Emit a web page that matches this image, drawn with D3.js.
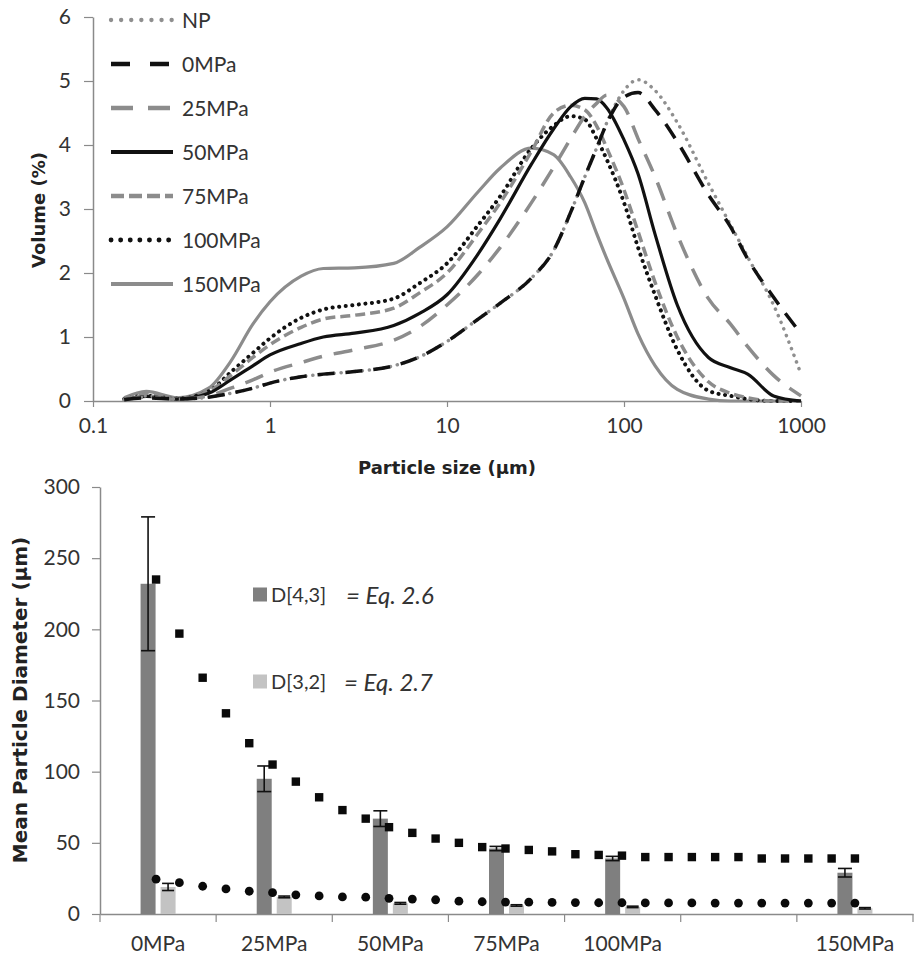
<!DOCTYPE html>
<html>
<head>
<meta charset="utf-8">
<script src="https://cdn.jsdelivr.net/npm/d3@7"></script>
<style>
  html, body { margin: 0; padding: 0; background: #fff; }
  svg { display: block; }
  text { font-family: Lato, "Open Sans", "DejaVu Sans", sans-serif; fill: #333; }
  text.axis-title { font-family: "DejaVu Sans", Verdana, sans-serif; font-weight: bold; fill: #222; }
</style>
</head>
<body>
<svg id="chart" width="914" height="959"></svg>
<script>
// ---------- Particle size distribution (top panel) ----------
const sizes = [0.15, 0.2, 0.3, 0.45, 0.6, 0.8, 1, 1.5, 2, 3, 5, 7, 10, 15, 20, 30, 40, 50, 60, 70, 80, 100, 120, 150, 200, 300, 400, 500, 700, 1000];
const volNP    = [0.02, 0.08, 0.03, 0.06, 0.12, 0.2, 0.28, 0.38, 0.42, 0.46, 0.55, 0.69, 0.93, 1.28, 1.53, 1.92, 2.35, 2.95, 3.5, 3.95, 4.35, 4.85, 5.02, 4.85, 4.35, 3.4, 2.75, 2.25, 1.5, 0.42];
const vol0     = [0.02, 0.05, 0.03, 0.06, 0.12, 0.2, 0.28, 0.38, 0.42, 0.46, 0.55, 0.69, 0.93, 1.28, 1.53, 1.92, 2.35, 2.95, 3.5, 3.95, 4.34, 4.75, 4.82, 4.55, 4.05, 3.22, 2.72, 2.22, 1.62, 1.05];
const vol25    = [0.02, 0.06, 0.03, 0.08, 0.2, 0.33, 0.45, 0.6, 0.7, 0.8, 0.95, 1.16, 1.5, 1.98, 2.4, 3.1, 3.65, 4.1, 4.45, 4.65, 4.78, 4.6, 4.1, 3.5, 2.6, 1.6, 1.2, 0.85, 0.4, 0.08];
const vol50    = [0.02, 0.07, 0.03, 0.12, 0.33, 0.55, 0.72, 0.9, 1.0, 1.06, 1.18, 1.37, 1.66, 2.3, 2.85, 3.7, 4.25, 4.6, 4.73, 4.72, 4.58, 4.08, 3.55, 2.6, 1.5, 0.68, 0.52, 0.42, 0.08, 0];
const vol75    = [0.03, 0.1, 0.04, 0.15, 0.4, 0.68, 0.88, 1.15, 1.28, 1.34, 1.45, 1.69, 2.0, 2.62, 3.1, 3.9, 4.5, 4.62, 4.55, 4.3, 3.95, 3.3, 2.65, 1.85, 1.0, 0.3, 0.12, 0.05, 0, 0];
const vol100   = [0.03, 0.08, 0.04, 0.15, 0.45, 0.75, 0.98, 1.3, 1.43, 1.5, 1.6, 1.84, 2.15, 2.75, 3.2, 3.95, 4.3, 4.45, 4.4, 4.1, 3.77, 3.1, 2.4, 1.65, 0.8, 0.16, 0.08, 0.03, 0, 0];
const vol150   = [0.05, 0.15, 0.05, 0.2, 0.62, 1.2, 1.55, 1.95, 2.07, 2.08, 2.15, 2.4, 2.72, 3.27, 3.64, 3.95, 3.85, 3.5, 3.1, 2.62, 2.22, 1.6, 1.05, 0.55, 0.18, 0.03, 0, 0, 0, 0];
const seriesNames = ["NP", "0MPa", "25MPa", "50MPa", "75MPa", "100MPa", "150MPa"];
const sizeTicks = [0.1, 1, 10, 100, 1000];
const sizeTickLabels = ["0.1", "1", "10", "100", "1000"];
const volumeTicks = [0, 1, 2, 3, 4, 5, 6];

// ---------- Mean particle diameters (bottom panel) ----------
const pressures = [0, 25, 50, 75, 100, 125, 150];
const pressureLabels = ["0MPa", "25MPa", "50MPa", "75MPa", "100MPa", "", "150MPa"];
const measuredP = [0, 25, 50, 75, 100, 150];
const d43 = [232, 95, 67, 46, 39, 29];
const d43Err = [47, 9, 5.5, 1.5, 1.5, 3];
const d32 = [19, 12, 7.5, 6, 5, 4];
const d32Err = [2.5, 0.6, 0.6, 0.5, 0.5, 0.5];
const modelP = [0, 5, 10, 15, 20, 25, 30, 35, 40, 45, 50, 55, 60, 65, 70, 75, 80, 85, 90, 95, 100, 105, 110, 115, 120, 125, 130, 135, 140, 145, 150];
const eq26 = [235, 197, 166, 141, 120, 105, 93, 82, 73, 67, 61, 57, 53, 50, 47, 46, 45, 44, 42, 41.5, 41, 40, 40, 40, 40, 40, 39, 39, 39, 39, 39];
const eq27 = [24.5, 22, 19.5, 17.6, 16, 15, 13.5, 12.7, 12, 11.8, 11, 10.5, 10, 9, 8.6, 8.4, 8.3, 8.1, 8, 7.9, 7.9, 7.8, 7.8, 7.8, 7.7, 7.7, 7.7, 7.7, 7.7, 7.7, 7.7];
const diamTicks = [0, 50, 100, 150, 200, 250, 300];

const svg = d3.select("#chart");
const axisColor = "#8a8a8a";
const tickFont = 21;

// ===== Top panel =====
const x = d3.scaleLog().domain([0.1, 1000]).range([93, 801]);
const y = d3.scaleLinear().domain([0, 6]).range([401, 17]);

const topPanel = svg.append("g");

// axes
const xAxisTop = topPanel.append("g").attr("transform", `translate(0,${y(0)})`)
  .call(d3.axisBottom(x).tickValues(sizeTicks).tickFormat((d, i) => sizeTickLabels[i]).tickSizeInner(6).tickSizeOuter(0));
const yAxisTop = topPanel.append("g").attr("transform", `translate(${x(0.1)},0)`)
  .call(d3.axisLeft(y).tickValues(volumeTicks).tickFormat(d3.format("d")).tickSizeInner(9).tickSizeOuter(0));
[xAxisTop, yAxisTop].forEach(g => {
  g.select(".domain").attr("stroke", axisColor).attr("stroke-width", 1.5);
  g.selectAll(".tick line").attr("stroke", axisColor).attr("stroke-width", 1.2);
  g.selectAll(".tick text").attr("font-size", tickFont).attr("fill", "#333")
    .style("font-family", "Lato, 'Open Sans', sans-serif");
});
xAxisTop.selectAll(".tick text").attr("dy", "1.1em");
yAxisTop.selectAll(".tick text").attr("x", -22);

topPanel.append("text").attr("class", "axis-title").attr("x", 447).attr("y", 474).attr("text-anchor", "middle")
  .attr("font-size", 18).text("Particle size (µm)");
topPanel.append("text").attr("class", "axis-title").attr("transform", "translate(45,210) rotate(-90)").attr("text-anchor", "middle")
  .attr("font-size", 18).text("Volume (%)");

const styles = {
  "NP":     { color: "#8f8f8f", width: 3.5, dash: "0.1 7", cap: "round", legendDash: "0.1 10" },
  "0MPa":   { color: "#111",    width: 3.5, dash: "17 11", cap: "butt", legendDash: "19 20" },
  "25MPa":  { color: "#8c8c8c", width: 3.5, dash: "19 12", cap: "butt", legendDash: "22 15" },
  "50MPa":  { color: "#111",    width: 3.2, dash: null,    cap: "butt", legendDash: null },
  "75MPa":  { color: "#8c8c8c", width: 3.5, dash: "10 5",  cap: "butt", legendDash: "13 5" },
  "100MPa": { color: "#111",    width: 4,   dash: "0.1 6.5", cap: "round", legendDash: "0.1 9.5" },
  "150MPa": { color: "#8c8c8c", width: 3.2, dash: null,    cap: "butt", legendDash: null }
};
const volumes = [volNP, vol0, vol25, vol50, vol75, vol100, vol150];
const line = d3.line().x(d => x(d[0])).y(d => y(d[1])).curve(d3.curveMonotoneX);

// draw order keeps the grey dotted NP under the black dashes of 0MPa
const drawOrder = [6, 5, 4, 3, 2, 0, 1];
drawOrder.forEach(i => {
  const name = seriesNames[i];
  const st = styles[name];
  const pts = sizes.map((s, k) => [s, volumes[i][k]]);
  topPanel.append("path").datum(pts)
    .attr("d", line)
    .attr("fill", "none")
    .attr("stroke", st.color)
    .attr("stroke-width", st.width)
    .attr("stroke-linecap", st.cap)
    .attr("stroke-dasharray", st.dash);
});

// legend
const legend = topPanel.append("g");
seriesNames.forEach((name, i) => {
  const st = styles[name];
  const ly = 20 + i * 44;
  legend.append("line").attr("x1", 111).attr("x2", 173).attr("y1", ly).attr("y2", ly)
    .attr("stroke", st.color).attr("stroke-width", st.width + 0.8)
    .attr("stroke-linecap", st.cap).attr("stroke-dasharray", st.legendDash);
  legend.append("text").attr("x", 182).attr("y", ly).attr("dy", "0.36em")
    .attr("font-size", tickFont).text(name);
});

// ===== Bottom panel =====
const xb = d3.scaleBand().domain(pressures).range([100, 913]).padding(0);
const yb = d3.scaleLinear().domain([0, 300]).range([914, 487]);
const bw = xb.bandwidth();
const inner = d3.scaleBand().domain(["d43", "d32"]).range([bw / 2 - 17.5, bw / 2 + 17.5]).paddingInner(0.25);
const xm = d3.scaleLinear().domain([0, 150]).range([xb(0) + bw / 2 - 2, xb(150) + bw / 2]);

const bottomPanel = svg.append("g");

const yAxisBot = bottomPanel.append("g").attr("transform", "translate(100,0)")
  .call(d3.axisLeft(yb).tickValues(diamTicks).tickSizeInner(8).tickSizeOuter(0));
const xAxisBot = bottomPanel.append("g").attr("transform", `translate(0,${yb(0)})`)
  .call(d3.axisBottom(xb).tickFormat((d, i) => pressureLabels[i]).tickSize(0));
// tick marks on band boundaries
const boundaries = pressures.map(p => xb(p)).concat([xb(150) + bw]);
bottomPanel.append("g").selectAll("line").data(boundaries).join("line")
  .attr("x1", d => d).attr("x2", d => d).attr("y1", yb(0)).attr("y2", yb(0) + 8)
  .attr("stroke", axisColor).attr("stroke-width", 1.2);
[xAxisBot, yAxisBot].forEach(g => {
  g.select(".domain").attr("stroke", axisColor).attr("stroke-width", 1.5);
  g.selectAll(".tick line").attr("stroke", axisColor).attr("stroke-width", 1.2);
  g.selectAll(".tick text").attr("font-size", tickFont).attr("fill", "#333")
    .style("font-family", "Lato, 'Open Sans', sans-serif");
});
xAxisBot.selectAll(".tick text").attr("y", 22).attr("dy", "0.71em");
yAxisBot.selectAll(".tick text").attr("x", -20);

bottomPanel.append("text").attr("class", "axis-title").attr("transform", "translate(27,700) rotate(-90)").attr("text-anchor", "middle")
  .attr("font-size", 20).text("Mean Particle Diameter (µm)");

// bars
const barColors = { d43: "#7f7f7f", d32: "#c3c3c3" };
const barSets = [
  { key: "d43", vals: d43, errs: d43Err, cap: 7 },
  { key: "d32", vals: d32, errs: d32Err, cap: 6 }
];
barSets.forEach(set => {
  const g = bottomPanel.append("g");
  measuredP.forEach((p, i) => {
    const bx = xb(p) + inner(set.key);
    g.append("rect").attr("x", bx).attr("y", yb(set.vals[i]))
      .attr("width", inner.bandwidth()).attr("height", yb(0) - yb(set.vals[i]))
      .attr("fill", barColors[set.key]);
  });
});
// error bars
barSets.forEach(set => {
  const g = bottomPanel.append("g").attr("stroke", "#111").attr("stroke-width", 1.6);
  measuredP.forEach((p, i) => {
    const cx = xb(p) + inner(set.key) + inner.bandwidth() / 2;
    const hi = yb(set.vals[i] + set.errs[i]);
    const lo = yb(set.vals[i] - set.errs[i]);
    g.append("line").attr("x1", cx).attr("x2", cx).attr("y1", hi).attr("y2", lo);
    g.append("line").attr("x1", cx - set.cap).attr("x2", cx + set.cap).attr("y1", hi).attr("y2", hi);
    g.append("line").attr("x1", cx - set.cap).attr("x2", cx + set.cap).attr("y1", lo).attr("y2", lo);
  });
});

// model points
bottomPanel.append("g").selectAll("rect").data(modelP.map((p, i) => [p, eq26[i]])).join("rect")
  .attr("x", d => xm(d[0]) - 4.2).attr("y", d => yb(d[1]) - 4.2)
  .attr("width", 8.4).attr("height", 8.4).attr("fill", "#0a0a0a");
bottomPanel.append("g").selectAll("circle").data(modelP.map((p, i) => [p, eq27[i]])).join("circle")
  .attr("cx", d => xm(d[0])).attr("cy", d => yb(d[1])).attr("r", 4.4).attr("fill", "#0a0a0a");

// legend
const legRows = [
  { key: "d43", label: "D[4,3]", eq: "= Eq. 2.6", y: 595, eqX: 346 },
  { key: "d32", label: "D[3,2]", eq: "= Eq. 2.7", y: 682, eqX: 344 }
];
legRows.forEach(r => {
  bottomPanel.append("rect").attr("x", 253).attr("y", r.y - 7.5).attr("width", 14).attr("height", 14)
    .attr("fill", barColors[r.key]);
  bottomPanel.append("text").attr("x", 271).attr("y", r.y).attr("dy", "0.36em")
    .attr("font-size", 20).text(r.label);
  bottomPanel.append("text").attr("x", r.eqX).attr("y", r.y).attr("dy", "0.36em")
    .attr("font-size", 24).attr("font-style", "italic").text(r.eq);
});
</script>
</body>
</html>
